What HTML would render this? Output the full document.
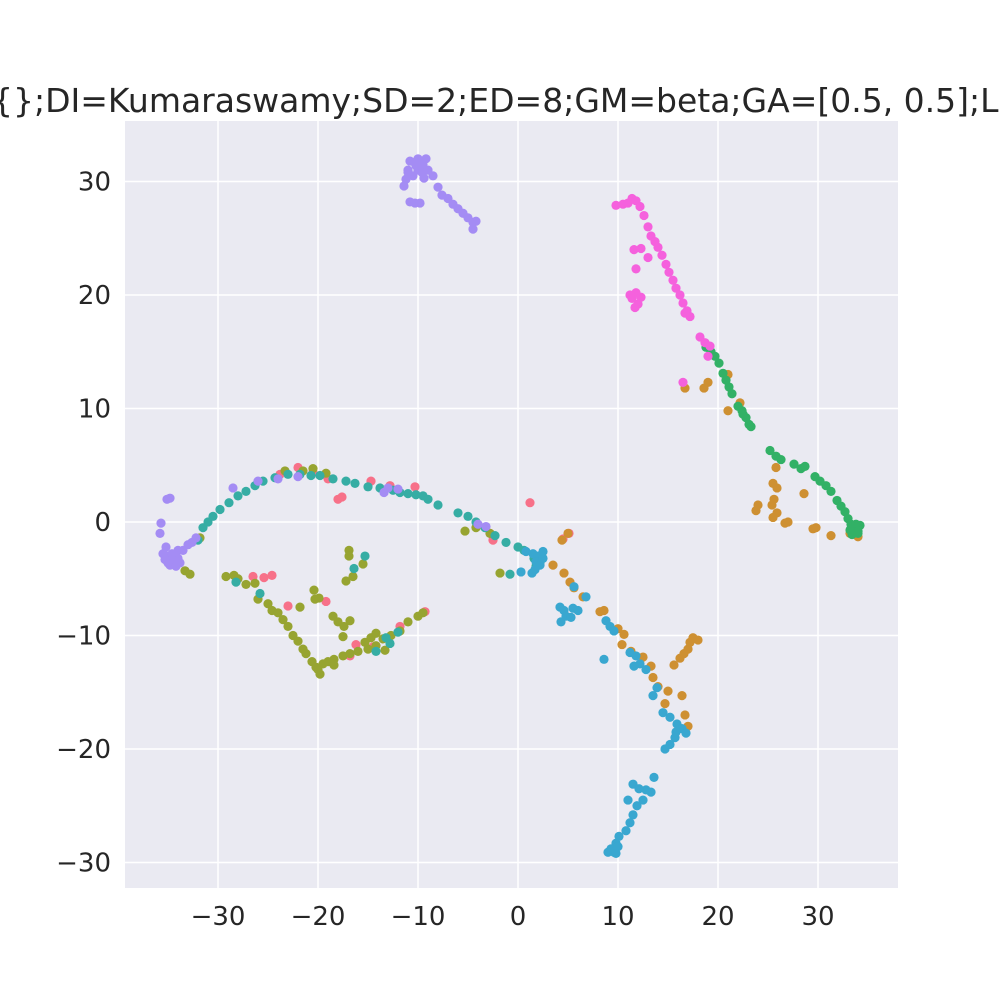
<!DOCTYPE html>
<html><head><meta charset="utf-8"><style>
body{margin:0;background:#fff;width:1000px;height:1000px;overflow:hidden;font-family:"Liberation Sans","DejaVu Sans",sans-serif}
</style></head><body>
<svg id="chart" width="1000" height="1000" xmlns="http://www.w3.org/2000/svg">
<text x="-8" y="112" font-size="33" fill="#262626" font-family="DejaVu Sans, Liberation Sans, sans-serif">{};DI=Kumaraswamy;SD=2;ED=8;GM=beta;GA=[0.5, 0.5];LR=0.001</text>
<rect x="125" y="121" width="773" height="767" fill="#eaeaf2"/>
<g id="grid"></g><g id="ticks"></g><g id="points"></g>
</svg>
<script>
const xTicks=[-30,-20,-10,0,10,20,30];
const yTicks=[30,20,10,0,-10,-20,-30];
const colors={red:'#f77189',orange:'#ce9032',olive:'#97a431',green:'#32b166',teal:'#36ada4',blue:'#39a7d0',purple:'#a48cf4',pink:'#f561dd'};
const purplePts=[[-10.5,30.5],[-10,31],[-9.5,31.5],[-10,32],[-9.2,32],[-10.8,31.8],[-9.6,30.8],[-11,31],[-11.2,30.2],[-11.4,29.6],[-9,31],[-8.5,30.5],[-8,29.5],[-7.6,28.8],[-7,28.5],[-6.5,28],[-6,27.6],[-5.5,27.2],[-5,26.8],[-4.5,26.4],[-4.2,26.5],[-4.5,25.8],[-10.8,28.2],[-10.3,28.1],[-9.8,28.1],[-11,30.8],[-9.8,31.8],[-10.2,31.4],[-9.4,30.3],[-35,-3],[-34.5,-3.5],[-34,-2.5],[-35.5,-2.8],[-34.8,-3.8],[-35.2,-2.2],[-34,-3.2],[-33.5,-2.5],[-33,-2],[-32.6,-1.8],[-32.2,-1.4],[-35.7,-0.1],[-35.8,-1],[-34.8,2.1],[-35.1,2],[-33.8,-3.6],[-35,-3.6],[-34.6,-2.8],[-34.2,-3.9],[-35.3,-3.3],[-22,4],[-24,3.8],[-26,3.6],[-28.5,3],[-13,3],[-12,2.9],[-13.4,2.6],[-3.2,-0.4],[-4,-0.2]];
const pinkPts=[[9.8,27.9],[10.5,28],[11,28.1],[11.4,28.5],[11.8,28.3],[12.2,27.8],[12.6,27],[13,26],[13.3,25.2],[13.7,24.7],[14,24.2],[14.4,23.5],[14.8,22.7],[15.1,22],[15.5,21.3],[15.8,20.6],[16.2,20],[16.5,19.3],[16.9,18.6],[17.2,18.1],[16.7,18.4],[11.4,19.7],[11.8,20.2],[12,19.2],[11.2,20],[12.3,19.8],[11.7,18.9],[11.6,24],[12.3,24.1],[13,23.3],[11.8,22.3],[18.2,16.3],[18.7,15.8],[19.2,15.5],[16.5,12.3],[19,14.6]];
const greenPts=[[18.8,15.4],[19.3,15],[19.7,14.6],[20.1,14],[20.5,13.1],[20.8,12.5],[21.1,11.9],[21.4,11.3],[22,10.2],[22.4,9.8],[22.8,9.2],[23.1,8.6],[23.3,8.4],[22.5,9.5],[25.2,6.3],[25.8,5.8],[26.3,5.5],[27.6,5.1],[28.3,4.7],[28.7,4.9],[29.7,4],[30.2,3.6],[30.8,3.2],[31.3,2.7],[31.9,1.9],[32.3,1.4],[32.7,0.9],[33,0.3],[33.3,-0.2],[33.6,-0.6],[34,-1],[33.4,-1.1],[34.2,-0.3],[33.8,-0.2],[34,-0.8],[33.2,-0.7]];
const orangePts=[[16.7,11.8],[18.6,11.8],[19,12.3],[21,13],[22.2,10.5],[21,9.8],[25.8,4.8],[25.5,3.4],[25.9,3],[25.6,2],[25.4,1.5],[24,1.5],[23.8,1],[25.9,0.8],[25.5,0.4],[26.7,-0.1],[27,0],[28.6,2.5],[29.8,-0.5],[29.5,-0.6],[31.3,-1.2],[34,-1.3],[33.2,-1],[5,-1],[4.4,-1.6],[3.5,-3.8],[4.6,-4.5],[5.2,-5.3],[5.6,-5.8],[6.5,-6.6],[8.2,-7.9],[8.6,-7.8],[10,-9.4],[10.6,-9.9],[10.4,-10.8],[11.3,-11.4],[12.5,-11.9],[13.3,-12.7],[13.5,-13.7],[14,-14.5],[15,-14.9],[14.7,-16],[16.4,-15.3],[15.6,-12.6],[16.2,-12],[16.6,-11.6],[17,-11.2],[17.5,-10.2],[18,-10.4],[17.2,-10.6],[16.7,-17],[17,-18]];
const bluePts=[[0.8,-2.6],[1.5,-2.8],[2,-3],[1.8,-3.5],[2.2,-3.8],[2.5,-3.2],[1.7,-4.2],[1.4,-4.5],[2.5,-2.6],[0.3,-4.4],[5.6,-5.7],[4.2,-7.5],[4.6,-7.8],[4.3,-8.8],[4.8,-8.3],[5.3,-8.4],[5.5,-7.6],[6,-7.8],[6.8,-6.6],[8.8,-8.7],[9.2,-9.2],[9.6,-9.6],[8.6,-12.1],[11.2,-11.5],[11.8,-11.8],[12.2,-12.5],[11.6,-12.7],[12.8,-13],[13.5,-15.3],[13.9,-14.6],[14.5,-16.8],[15.2,-17.2],[15.9,-17.8],[16.4,-18.2],[16.8,-18.6],[15.7,-19],[15.2,-19.6],[15.8,-18.5],[14.7,-20],[13.3,-23.8],[13.6,-22.5],[12.8,-23.6],[12.5,-24.5],[11.9,-25],[11.5,-25.8],[11.2,-26.5],[10.8,-27.2],[10.1,-27.7],[9.8,-28.3],[9.3,-28.8],[9,-29.1],[9.6,-29.1],[10,-28.6],[9.8,-29.2],[11.5,-23.1],[11,-24.5],[12.1,-23.5]];
const tealPts=[[-31.5,-0.5],[-31,0],[-30.5,0.5],[-29.8,1.1],[-28.9,1.7],[-28,2.3],[-27.2,2.7],[-26.3,3.2],[-25.5,3.6],[-24.3,3.9],[-23,4.2],[-21.8,4.2],[-20.7,4.1],[-19.8,4.1],[-18.5,3.8],[-17.2,3.6],[-16.3,3.4],[-15,3.1],[-13.8,3],[-12.5,2.8],[-11.8,2.6],[-11,2.5],[-10.2,2.4],[-9.5,2.3],[-9,2],[-8,1.5],[-6,0.8],[-5,0.5],[-4.2,0],[-3.3,-0.5],[-2.3,-1.2],[-1.2,-1.8],[0,-2.2],[0.6,-2.5],[1.6,-3.2],[2.2,-3.6],[1.8,-3.9],[-32,-1.6],[-25.8,-6.3],[-28.2,-5.3],[-16.4,-4.1],[-15.3,-3],[-12,-9.7],[-12.8,-10.7],[-13.2,-10.2],[-14.2,-11.4],[-0.8,-4.6]];
const olivePts=[[-33.3,-4.3],[-32.8,-4.6],[-29.2,-4.8],[-28.4,-4.7],[-28,-5],[-27.2,-5.5],[-26,-6.8],[-25,-7.2],[-24.6,-7.8],[-24,-8],[-23.5,-8.6],[-23,-9.2],[-22.5,-10],[-22,-10.5],[-21.5,-11.2],[-21.2,-11.6],[-20.6,-12.3],[-20.2,-12.8],[-19.8,-13.4],[-20,-13],[-19.5,-12.5],[-19,-12.3],[-18.4,-12.1],[-17.5,-11.8],[-16.8,-11.6],[-16,-11.4],[-15,-11.2],[-14.2,-10.9],[-13.5,-10.3],[-12.7,-10],[-11.8,-9.6],[-11,-8.8],[-10,-8.3],[-9.5,-8],[-20.4,-6],[-20.3,-6.8],[-19.9,-6.7],[-21.8,-7.5],[-18.5,-8.3],[-18,-8.8],[-17.4,-9.2],[-17.5,-10.1],[-16.8,-8.7],[-16.9,-2.5],[-16.9,-3],[-17.2,-5.2],[-16.5,-4.8],[-15.5,-3.7],[-14.7,-10.2],[-14.2,-9.8],[-13.3,-11.3],[-15.3,-10.6],[-18.4,-12.6],[-26.3,-5.4],[-31.8,-1.4],[-23.3,4.5],[-21.5,4.5],[-20.5,4.7],[-19.2,4.3],[-2.8,-1],[-1.8,-4.5],[-5.3,-0.8],[-4.2,-0.5]];
const redPts=[[-25.4,-4.9],[-24.6,-4.7],[-23,-7.4],[-22,4.8],[-23.8,4.2],[-20.5,4.4],[-18,2],[-17.6,2.2],[-19,3.8],[-14.7,3.6],[-12.8,3.2],[-10.3,3.1],[-19.2,-7],[-16.2,-10.8],[-16.8,-11.8],[-14.5,-11],[-11.8,-9.2],[-9.3,-7.9],[-2.5,-1.6],[-2.8,-1],[1.2,1.7],[4.5,-1.5],[5.1,-1],[-26.5,-4.8]];
const NS='http://www.w3.org/2000/svg';
function sx(v){return 518+v*10;}
function sy(v){return 522-v*11.35;}
const grid=document.getElementById('grid'),ticks=document.getElementById('ticks'),pts=document.getElementById('points');
function mk(tag,attrs,parent){const e=document.createElementNS(NS,tag);for(const k in attrs)e.setAttribute(k,attrs[k]);parent.appendChild(e);return e;}
xTicks.forEach(t=>{
  const l=mk('line',{x1:sx(t),x2:sx(t),y1:121,y2:888,stroke:'#fff','stroke-width':1.5},grid);
  
  
  const tx=mk('text',{x:sx(t),y:925,'text-anchor':'middle','font-size':26,fill:'#262626','font-family':'DejaVu Sans, Liberation Sans, sans-serif'},ticks);
  tx.textContent=(t<0?'\u2212'+(-t):t);
  
  
});
yTicks.forEach(t=>{
  const l=mk('line',{x1:125,x2:898,y1:sy(t),y2:sy(t),stroke:'#fff','stroke-width':1.5},grid);
  
  
  const tx=mk('text',{x:111,y:sy(t)+9,'text-anchor':'end','font-size':26,fill:'#262626','font-family':'DejaVu Sans, Liberation Sans, sans-serif'},ticks);
  tx.textContent=(t<0?'\u2212'+(-t):t);
  
  
});
const series=[['red',redPts],['orange',orangePts],['olive',olivePts],['green',greenPts],['teal',tealPts],['blue',bluePts],['purple',purplePts],['pink',pinkPts]];
series.forEach(([name,arr])=>{
  arr.forEach(p=>{
    const c=mk('circle',{cx:sx(p[0]),cy:sy(p[1]),r:4.6,fill:colors[name]},pts);
    
    
  });
});
</script>
</body></html>
